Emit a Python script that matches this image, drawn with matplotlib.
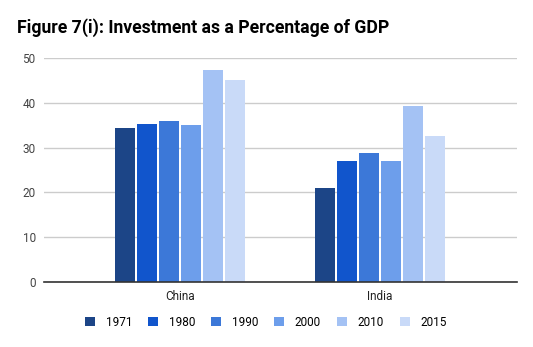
import matplotlib
matplotlib.use("Agg")
import matplotlib.pyplot as plt
import numpy as np

categories = ["China", "India"]
years = ["1971", "1980", "1990", "2000", "2010", "2015"]
values = {
    "1971": [34.4, 21.0],
    "1980": [35.3, 27.0],
    "1990": [35.9, 28.8],
    "2000": [35.0, 27.0],
    "2010": [47.3, 39.3],
    "2015": [45.1, 32.6],
}
colors = ["#1c4587", "#1155cc", "#3c78d8", "#6d9eeb", "#a4c2f4", "#c9daf8"]
yticks = [0, 10, 20, 30, 40, 50]

plt.rcParams['font.family'] = ['Roboto', 'DejaVu Sans']

fig = plt.figure(figsize=(5.33, 3.47), dpi=100)
ax = fig.add_axes([44/533, 1-282/347, (517-44)/533, (282-58)/347])

x = np.arange(len(categories))
slot = 0.11
width = 0.1
n = len(years)
for i, (yr, c) in enumerate(zip(years, colors)):
    offs = (i - (n-1)/2) * slot
    ax.bar(x + offs, values[yr], width=width, color=c, label=yr, zorder=3)

ax.set_xlim(-0.68, 1.685)
ax.set_ylim(0, 50)
ax.set_yticks(yticks)
ax.set_yticklabels([str(t) for t in yticks], fontsize=8.5, color="#444444")
ax.set_xticks(x)
ax.set_xticklabels(categories, fontsize=8.5, color="#222222")
ax.tick_params(axis='both', length=0, pad=6)
ax.grid(axis='y', color="#cccccc", linewidth=1, zorder=0)
for s in ["top", "right", "left"]:
    ax.spines[s].set_visible(False)
ax.spines["bottom"].set_color("#333333")
ax.spines["bottom"].set_linewidth(1.2)
ax.spines["bottom"].set_zorder(4)

fig.text(17/533, 1-28/347, "Figure 7(i): Investment as a Percentage of GDP",
         fontsize=12.7, fontweight='bold', color="#000000", va='center', ha='left')

handles, labels = ax.get_legend_handles_labels()
fig.legend(handles, labels, loc='center', bbox_to_anchor=(266/533, 1-322/347),
           ncol=6, frameon=False, fontsize=8.5, handlelength=0.85, handleheight=0.85,
           handletextpad=0.9, columnspacing=1.35)

fig.savefig("out.png", dpi=100)
